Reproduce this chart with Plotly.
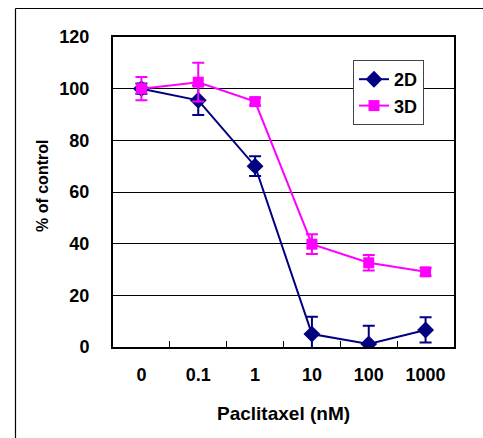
import plotly.graph_objects as go

categories = ["0", "0.1", "1", "10", "100", "1000"]
vals_2d = [100, 95.5, 70, 5, 1.2, 6.6]
err_2d = [2, 5.7, 3.8, 6.7, 7, 4.9]
vals_3d = [100, 102.5, 95, 39.8, 32.6, 29.1]
err_3d = [4.5, 7.5, 1.5, 3.8, 3, 1.5]
y_ticks = [0, 20, 40, 60, 80, 100, 120]

NAVY = "#000080"
PINK = "#FF00FF"
FONT = "Liberation Sans, Arial, sans-serif"

fig = go.Figure()
fig.add_trace(go.Scatter(
    x=categories, y=vals_2d, name="2D", mode="lines+markers",
    line=dict(color=NAVY, width=2),
    marker=dict(symbol="diamond", size=13, color=NAVY),
    error_y=dict(type="data", array=err_2d, color=NAVY, thickness=2, width=6),
))
fig.add_trace(go.Scatter(
    x=categories, y=vals_3d, name="3D", mode="lines+markers",
    line=dict(color=PINK, width=2),
    marker=dict(symbol="square", size=11, color=PINK),
    error_y=dict(type="data", array=err_3d, color=PINK, thickness=2, width=6),
))

fig.update_layout(
    width=483, height=438,
    margin=dict(l=113, r=29, t=37, b=91),
    paper_bgcolor="white", plot_bgcolor="white",
    font=dict(family=FONT, size=18, color="black", weight="bold"),
    showlegend=True,
    legend=dict(
        x=(353 - 113) / 341, y=(347 - 60) / 310, xanchor="left", yanchor="top",
        bgcolor="white", bordercolor="#444", borderwidth=1,
        font=dict(family=FONT, size=18, color="black", weight="bold"),
        tracegroupgap=0, itemwidth=30,
    ),
    xaxis=dict(
        type="category", categoryorder="array", categoryarray=categories,
        showgrid=False, showline=True, linecolor="black", linewidth=2, mirror=True,
        ticks="inside", tickson="boundaries", ticklen=6, tickcolor="black", tickwidth=1,
        ticklabelstandoff=10,
        range=[-0.5, 5.5],
        tickfont=dict(family=FONT, size=18, color="black", weight="bold"),
    ),
    yaxis=dict(
        range=[0, 120], tickvals=y_ticks, ticktext=[str(v) for v in y_ticks],
        showgrid=True, gridcolor="black", gridwidth=1,
        showline=True, linecolor="black", linewidth=2, mirror=True,
        ticks="", ticklabelstandoff=18, zeroline=False,
        tickfont=dict(family=FONT, size=18, color="black", weight="bold"),
    ),
    annotations=[
        dict(text="Paclitaxel (nM)", xref="paper", yref="paper",
             x=(283 - 113) / 341, y=(347 - 413) / 310, xanchor="center", yanchor="middle",
             showarrow=False, font=dict(family=FONT, size=19, color="black", weight="bold")),
        dict(text="% of control", xref="paper", yref="paper", textangle=-90,
             x=(43 - 113) / 341, y=(347 - 186) / 310, xanchor="center", yanchor="middle",
             showarrow=False, font=dict(family=FONT, size=16, color="black", weight="bold")),
    ],
    shapes=[
        dict(type="line", xref="paper", yref="paper", layer="above",
             x0=(15.5 - 113) / 341, x1=(15.5 - 113) / 341,
             y0=(347 - 8.5) / 310, y1=(347 - 438) / 310,
             line=dict(color="black", width=1.2)),
        dict(type="line", xref="paper", yref="paper", layer="above",
             x0=(15.5 - 113) / 341, x1=(483 - 113) / 341,
             y0=(347 - 8.5) / 310, y1=(347 - 8.5) / 310,
             line=dict(color="black", width=1.2)),
    ],
)

fig.write_html(
    "out.html",
    config={"displayModeBar": False},
    post_script="document.body.style.margin='0';document.body.style.overflow='hidden';",
)
